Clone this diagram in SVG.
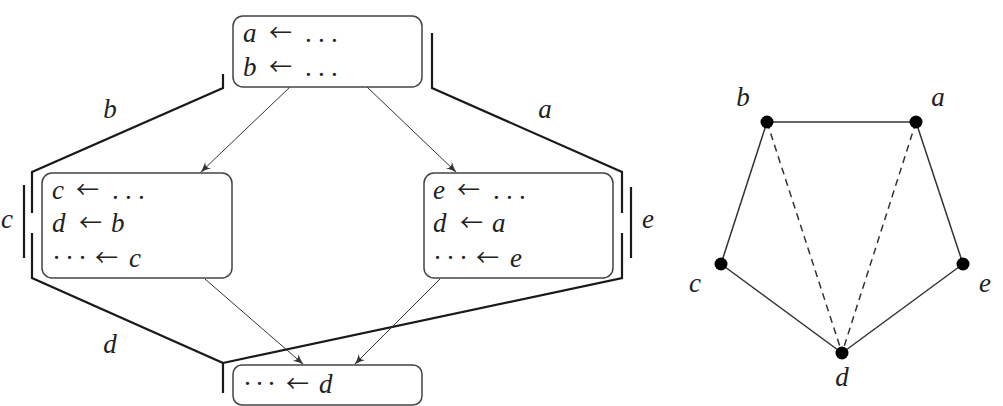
<svg xmlns="http://www.w3.org/2000/svg" width="1003" height="406" viewBox="0 0 1003 406">
<style>
.box{fill:#fff;stroke:#444;stroke-width:1.5}
.t{font-family:"Liberation Serif","DejaVu Serif",serif;font-size:27px;fill:#222}
.i{font-style:italic}
.arw{font-family:"Noto Sans CJK JP","DejaVu Sans",sans-serif;font-size:23px;font-style:normal}
.dt{font-style:normal}
.br{fill:none;stroke:#1a1a1a;stroke-width:2.2}
.ar{fill:none;stroke:#333;stroke-width:1}
.e{stroke:#333;stroke-width:1.5;fill:none}
.ed{stroke:#333;stroke-width:1.5;fill:none;stroke-dasharray:7 5}
.n{fill:#000}
</style>
<defs>
<marker id="ah" viewBox="0 0 10 10" refX="9" refY="5" markerWidth="11" markerHeight="11" markerUnits="userSpaceOnUse" orient="auto">
<path d="M0,1 Q5,4 10,5 Q5,6 0,9 Q4,5 0,1 Z" fill="#333"/>
</marker>
</defs>
<g id="brackets">
<path class="br" d="M223,74 V88 L32,172 V213 M32,233 V278 L223,363 V393"/>
<path class="br" d="M432,33 V88 L622,172 V213 M622,233 V278 L223,363"/>
<path class="br" d="M24,185 V258"/>
<path class="br" d="M631,187 V258"/>
</g>
<g id="connectors">
<line class="ar" x1="290" y1="87" x2="201" y2="172" marker-end="url(#ah)"/>
<line class="ar" x1="367" y1="87" x2="456" y2="172" marker-end="url(#ah)"/>
<line class="ar" x1="205" y1="279" x2="303" y2="364" marker-end="url(#ah)"/>
<line class="ar" x1="440" y1="279" x2="355" y2="364" marker-end="url(#ah)"/>
</g>
<g id="labels">
<text class="t i" x="110" y="118" text-anchor="middle">b</text>
<text class="t i" x="545" y="118" text-anchor="middle">a</text>
<text class="t i" x="7" y="228" text-anchor="middle">c</text>
<text class="t i" x="648" y="228" text-anchor="middle">e</text>
<text class="t i" x="110" y="353" text-anchor="middle">d</text>
</g>
<g id="top">
<rect class="box" x="233" y="16" width="189" height="71" rx="10"/>
<text class="t"><tspan class="i" x="243" y="42">a</tspan><tspan class="arw" x="269" y="41">←</tspan><tspan class="dt" x="305 318 331" y="42">...</tspan></text>
<text class="t"><tspan class="i" x="243" y="76">b</tspan><tspan class="arw" x="269" y="75">←</tspan><tspan class="dt" x="305 318 331" y="76">...</tspan></text>
</g>
<g id="left">
<rect class="box" x="42" y="173" width="190" height="105" rx="10"/>
<text class="t"><tspan class="i" x="52" y="199">c</tspan><tspan class="arw" x="76" y="198">←</tspan><tspan class="dt" x="112 125 138" y="199">...</tspan></text>
<text class="t"><tspan class="i" x="52" y="232">d</tspan><tspan class="arw" x="79" y="231">←</tspan><tspan class="i" x="111" y="232">b</tspan></text>
<text class="t"><tspan class="dt" x="52 65 78" y="267">···</tspan><tspan class="arw" x="95" y="266">←</tspan><tspan class="i" x="129" y="267">c</tspan></text>
</g>
<g id="right">
<rect class="box" x="424" y="173" width="189" height="105" rx="10"/>
<text class="t"><tspan class="i" x="433" y="199">e</tspan><tspan class="arw" x="457" y="198">←</tspan><tspan class="dt" x="493 506 519" y="199">...</tspan></text>
<text class="t"><tspan class="i" x="433" y="232">d</tspan><tspan class="arw" x="460" y="231">←</tspan><tspan class="i" x="492" y="232">a</tspan></text>
<text class="t"><tspan class="dt" x="433 446 459" y="267">···</tspan><tspan class="arw" x="476" y="266">←</tspan><tspan class="i" x="510" y="267">e</tspan></text>
</g>
<g id="bottom">
<rect class="box" x="233" y="365" width="189" height="40" rx="9"/>
<text class="t"><tspan class="dt" x="243 255 267" y="393">···</tspan><tspan class="arw" x="286" y="392">←</tspan><tspan class="i" x="319" y="393">d</tspan></text>
</g>
<g id="graph-edges">
<line class="e" x1="767" y1="122" x2="916" y2="122"/>
<line class="e" x1="767" y1="122" x2="721" y2="264"/>
<line class="e" x1="721" y1="264" x2="842" y2="353"/>
<line class="e" x1="842" y1="353" x2="963" y2="264"/>
<line class="e" x1="963" y1="264" x2="916" y2="122"/>
<line class="ed" x1="767" y1="122" x2="842" y2="353"/>
<line class="ed" x1="916" y1="122" x2="842" y2="353"/>
</g>
<g id="node-b"><circle class="n" cx="767" cy="122" r="6.5"/><text class="t i" x="743" y="106" text-anchor="middle">b</text></g>
<g id="node-a"><circle class="n" cx="916" cy="122" r="6.5"/><text class="t i" x="938" y="106" text-anchor="middle">a</text></g>
<g id="node-c"><circle class="n" cx="721" cy="264" r="6.5"/><text class="t i" x="695" y="292" text-anchor="middle">c</text></g>
<g id="node-e"><circle class="n" cx="963" cy="264" r="6.5"/><text class="t i" x="985" y="292" text-anchor="middle">e</text></g>
<g id="node-d"><circle class="n" cx="842" cy="353" r="6.5"/><text class="t i" x="842" y="386" text-anchor="middle">d</text></g>
</svg>
